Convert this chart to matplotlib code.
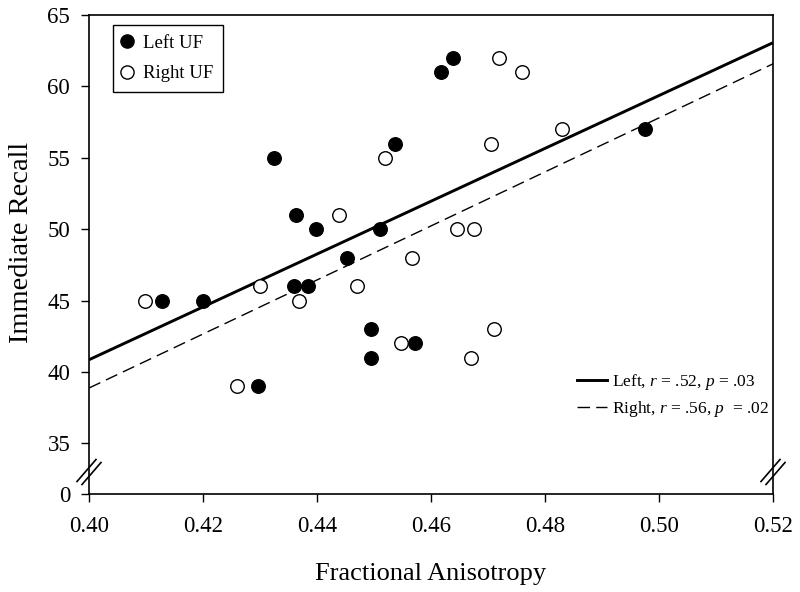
import numpy as np
import matplotlib
matplotlib.use("Agg")
import matplotlib.pyplot as plt
from matplotlib.lines import Line2D

plt.rcParams['font.family'] = ['Liberation Serif', 'DejaVu Serif']
plt.rcParams['mathtext.fontset'] = 'custom'
plt.rcParams['mathtext.rm'] = 'Liberation Serif'
plt.rcParams['mathtext.it'] = 'Liberation Serif:italic'

# ---- data ----
left_fa = [0.4128, 0.4200, 0.4297, 0.4325, 0.4364, 0.4360, 0.4385, 0.4398, 0.4452,
           0.4495, 0.4495, 0.4511, 0.4537, 0.4572, 0.4618, 0.4638, 0.4975]
left_recall = [45, 45, 39, 55, 51, 46, 46, 50, 48, 43, 41, 50, 56, 42, 61, 62, 57]

right_fa = [0.4098, 0.4260, 0.4300, 0.4369, 0.4439, 0.4470, 0.4519, 0.4547, 0.4567,
            0.4645, 0.4676, 0.4671, 0.4705, 0.4711, 0.4720, 0.4760, 0.4830]
right_recall = [45, 39, 46, 45, 51, 46, 55, 42, 48, 50, 50, 41, 56, 43, 62, 61, 57]

fit_x = [0.40, 0.52]
left_fit = [40.86, 63.06]
right_fit = [38.88, 61.58]

x_ticks = [0.40, 0.42, 0.44, 0.46, 0.48, 0.50, 0.52]
y_ticks = [0, 35, 40, 45, 50, 55, 60, 65]
left_label = r"Left, $r$ = .52, $p$ = .03"
right_label = r"Right, $r$ = .56, $p$  = .02"

# ---- broken y scale ----
GAP = 3.54
def fwd(y):
    y = np.asarray(y, dtype=float)
    return np.where(y >= 35, y, 35 - GAP + y * GAP / 35)

def inv(v):
    v = np.asarray(v, dtype=float)
    return np.where(v >= 35, v, (v - (35 - GAP)) * 35 / GAP)

fig = plt.figure(figsize=(8, 5.92), dpi=100)
ax = fig.add_axes([89/800, 1 - 494/592, (773-89)/800, (494-15)/592])
ax.set_yscale('function', functions=(fwd, inv))

ax.plot(fit_x, left_fit, color='black', lw=2.1, solid_capstyle='butt')
ax.plot(fit_x, right_fit, color='black', lw=1.0, dashes=(9, 4.5))

ax.scatter(left_fa, left_recall, s=95, c='black', edgecolors='black', linewidths=1.0, zorder=3)
ax.scatter(right_fa, right_recall, s=95, c='white', edgecolors='black', linewidths=1.0, zorder=3)

ax.set_xlim(0.40, 0.52)
ax.set_ylim(0, 65)
ax.set_xticks(x_ticks)
ax.set_xticklabels([f"{t:.2f}" for t in x_ticks])
ax.set_yticks(y_ticks)
ax.set_yticklabels([str(t) for t in y_ticks])
ax.tick_params(direction='out', length=5.5, width=1.0, labelsize=16.5, colors='black')
ax.tick_params(axis='y', pad=8)
ax.tick_params(axis='x', pad=10)
for sp in ax.spines.values():
    sp.set_linewidth(1.2)

ax.set_xlabel('Fractional Anisotropy', fontsize=19, labelpad=19)
ax.set_ylabel('Immediate Recall', fontsize=20.5)
ax.yaxis.set_label_coords(-0.081, 0.526)

# break marks
W, H = 684.0, 479.0
def slash(x0px, y0px, x1px, y1px):
    ax.plot([x0px / W, x1px / W], [y0px / H, y1px / H], transform=ax.transAxes,
            color='black', lw=1.2, clip_on=False)
for cx in (0.0, W):
    for off in (-2.5, 2.5):
        slash(cx - 9.5 + off, 11 - 1.5 * off / 2.5, cx + 9.5 + off, 33 - 1.5 * off / 2.5)

# upper legend (markers)
h1 = Line2D([], [], marker='o', ls='none', markersize=9.5, markerfacecolor='black', markeredgecolor='black')
h2 = Line2D([], [], marker='o', ls='none', markersize=9.5, markerfacecolor='white', markeredgecolor='black')
leg1 = ax.legend([h1, h2], ['Left UF', 'Right UF'], loc='upper left',
                 bbox_to_anchor=(24/W, 1 - 10/H), fontsize=13.5, frameon=True,
                 fancybox=False, edgecolor='black', framealpha=1, borderpad=0.5,
                 handletextpad=0.6, handlelength=0.5, labelspacing=0.72, borderaxespad=0)
leg1.get_frame().set_linewidth(1.0)
ax.add_artist(leg1)

# lower legend (fit lines)
l1 = Line2D([], [], color='black', lw=2.1)
l2 = Line2D([], [], color='black', lw=1.0, dashes=(9, 4.5))
leg2 = ax.legend([l1, l2], [left_label, right_label], loc='upper left',
                 bbox_to_anchor=(488/W, 1 - 357/H), fontsize=12.5, frameon=False,
                 handlelength=1.7, handletextpad=0.3, labelspacing=0.4, borderaxespad=0,
                 borderpad=0)

fig.savefig('out.png', dpi=100)
